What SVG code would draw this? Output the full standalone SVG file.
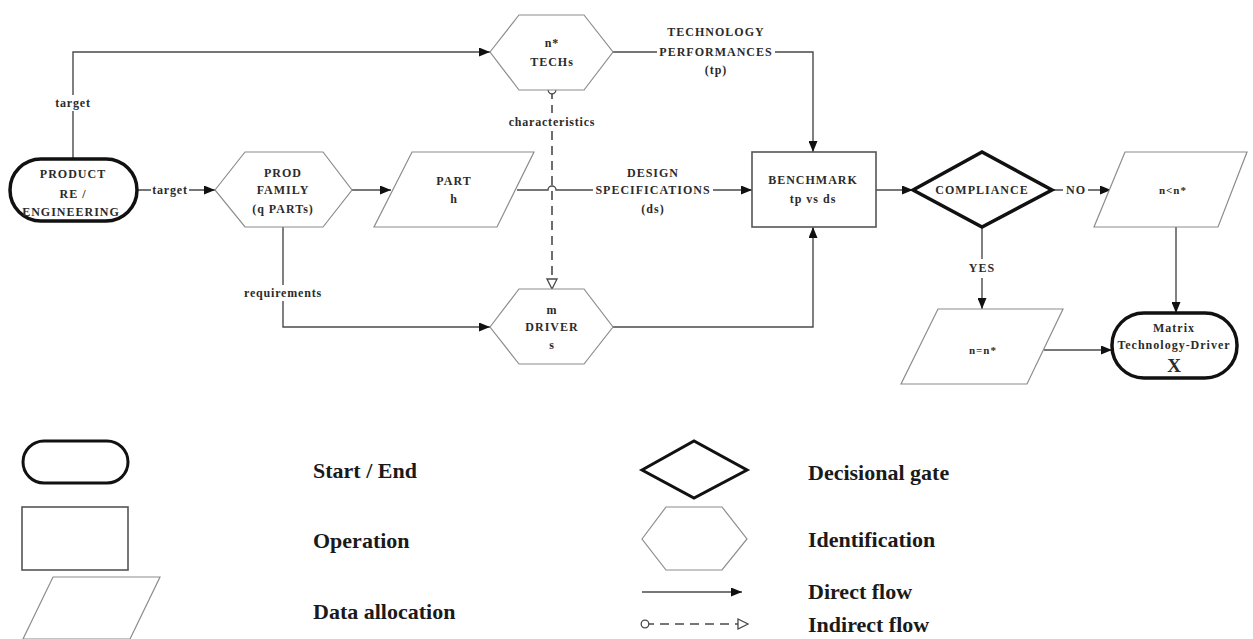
<svg xmlns="http://www.w3.org/2000/svg" width="1253" height="639" viewBox="0 0 1253 639">
<style>
  .bg { fill: #ffffff; }
  .thin { fill: #ffffff; stroke: #8c8c8c; stroke-width: 1.2; }
  .op { fill: #ffffff; stroke: #555555; stroke-width: 1.6; }
  .thick { fill: #ffffff; stroke: #111111; stroke-width: 3.5; }
  .conn { fill: none; stroke: #4a4a4a; stroke-width: 1.4; }
  .dash { fill: none; stroke: #4a4a4a; stroke-width: 1.6; stroke-dasharray: 9,6; }
  text { font-family: "Liberation Serif", "Times New Roman", serif; font-weight: bold; fill: #2b2b2b; }
  .t { font-size: 12px; letter-spacing: 1px; text-anchor: middle; dominant-baseline: central; }
  .l { font-size: 12px; letter-spacing: 0.8px; text-anchor: middle; dominant-baseline: central; }
  .big { font-size: 19px; text-anchor: middle; dominant-baseline: central; }
  .leg { font-size: 22px; dominant-baseline: central; fill: #1a1a1a; }
</style>
<defs>
  <marker id="arr" markerUnits="userSpaceOnUse" markerWidth="11" markerHeight="9" refX="11" refY="4.5" orient="auto">
    <path d="M0,0 L11,4.5 L0,9 z" fill="#111111"/>
  </marker>
  <marker id="open" markerUnits="userSpaceOnUse" markerWidth="12" markerHeight="12" refX="11" refY="6" orient="auto">
    <path d="M1,1 L11,6 L1,11 z" fill="#ffffff" stroke="#4a4a4a" stroke-width="1.3"/>
  </marker>
  <marker id="dot" markerUnits="userSpaceOnUse" markerWidth="10" markerHeight="10" refX="5" refY="5" orient="auto">
    <circle cx="5" cy="5" r="3.8" fill="#ffffff" stroke="#4a4a4a" stroke-width="1.3"/>
  </marker>
</defs>
<rect class="bg" x="0" y="0" width="1253" height="639"/>

<g id="connectors">
  <path class="conn" d="M73,159 V111 M73,95 V52 H490" marker-end="url(#arr)"/>
  <path class="conn" d="M137,190 H151 M189,190 H215" marker-end="url(#arr)"/>
  <path class="conn" d="M352,190 H391" marker-end="url(#arr)"/>
  <path class="conn" d="M613,52 H657 M775,52 H813 V152" marker-end="url(#arr)"/>
  <path class="conn" d="M517,190 H548 A4,4 0 0 1 556,190 H593 M713,190 H752" marker-end="url(#arr)"/>
  <path class="conn" d="M283,227 V285 M283,301 V327 H490" marker-end="url(#arr)"/>
  <path class="dash" d="M552,90 V113 M552,131 V289" marker-start="url(#dot)" marker-end="url(#open)"/>
  <path class="conn" d="M613,327 H813 V227" marker-end="url(#arr)"/>
  <path class="conn" d="M876,190 H913" marker-end="url(#arr)"/>
  <path class="conn" d="M1052,190 H1063 M1088,190 H1111" marker-end="url(#arr)"/>
  <path class="conn" d="M982,227 V259 M982,278 V309" marker-end="url(#arr)"/>
  <path class="conn" d="M1176,227 V313" marker-end="url(#arr)"/>
  <path class="conn" d="M1044,350 H1112" marker-end="url(#arr)"/>
  <text class="l" x="73" y="103">target</text>
  <text class="l" x="170" y="190">target</text>
  <text class="l" x="283" y="293">requirements</text>
  <text class="l" x="552" y="122">characteristics</text>
  <text class="t" x="716" y="32">TECHNOLOGY</text>
  <text class="t" x="716" y="52">PERFORMANCES</text>
  <text class="t" x="716" y="70">(tp)</text>
  <text class="t" x="653" y="173">DESIGN</text>
  <text class="t" x="653" y="190">SPECIFICATIONS</text>
  <text class="t" x="653" y="209">(ds)</text>
  <text class="t" x="1076" y="190">NO</text>
  <text class="t" x="982" y="268">YES</text>
</g>

<g id="product">
  <rect class="thick" x="10" y="159" width="127" height="62" rx="31" ry="31"/>
  <text class="t" x="73" y="174">PRODUCT</text>
  <text class="t" x="73" y="194">RE /</text>
  <text class="t" x="71" y="212">ENGINEERING</text>
</g>

<g id="prod-family">
  <polygon class="thin" points="215,190 245,152 323,152 352,190 323,227 245,227"/>
  <text class="t" x="283" y="173">PROD</text>
  <text class="t" x="283" y="190">FAMILY</text>
  <text class="t" x="283" y="209">(q PARTs)</text>
</g>

<g id="part">
  <polygon class="thin" points="412,152 534,152 497,227 374,227"/>
  <text class="t" x="454" y="181">PART</text>
  <text class="t" x="454" y="199">h</text>
</g>

<g id="techs">
  <polygon class="thin" points="490,52 519,15 584,15 613,52 584,90 519,90"/>
  <text class="t" x="552" y="43">n*</text>
  <text class="t" x="552" y="62">TECHs</text>
</g>

<g id="drivers">
  <polygon class="thin" points="490,327 519,289 584,289 613,327 584,364 519,364"/>
  <text class="t" x="552" y="310">m</text>
  <text class="t" x="552" y="327">DRIVER</text>
  <text class="t" x="552" y="345">s</text>
</g>

<g id="benchmark">
  <rect class="op" x="752" y="152" width="124" height="75"/>
  <text class="t" x="813" y="180">BENCHMARK</text>
  <text class="t" x="813" y="199">tp vs ds</text>
</g>

<g id="compliance">
  <polygon class="thick" points="913,190 982,152 1052,190 982,227"/>
  <text class="t" x="982" y="190">COMPLIANCE</text>
</g>

<g id="n-less">
  <polygon class="thin" points="1125,152 1247,152 1218,227 1094,227"/>
  <text class="t" x="1173" y="190" style="font-size:11px">n&lt;n*</text>
</g>

<g id="n-equal">
  <polygon class="thin" points="938,309 1063,309 1027,384 901,384"/>
  <text class="t" x="983" y="350" style="font-size:11px">n=n*</text>
</g>

<g id="matrix">
  <rect class="thick" x="1112" y="313" width="125" height="65" rx="32" ry="32"/>
  <text class="t" x="1174" y="328">Matrix</text>
  <text class="t" x="1174" y="345">Technology-Driver</text>
  <text class="big" x="1174" y="365">X</text>
</g>

<g id="legend">
  <rect class="thick" x="23" y="441" width="105" height="42" rx="21" ry="21" style="stroke-width:3"/>
  <rect class="op" x="22" y="507" width="106" height="63"/>
  <polygon class="thin" points="53,577 160,577 130,639 23,639"/>
  <text class="leg" x="313" y="470">Start / End</text>
  <text class="leg" x="313" y="540">Operation</text>
  <text class="leg" x="313" y="611">Data allocation</text>
  <polygon class="thick" points="642,470 694,441 747,470 694,498" style="stroke-width:3"/>
  <polygon class="thin" points="642,539 666,507 722,507 747,539 722,570 666,570"/>
  <path class="conn" d="M642,592 H742" marker-end="url(#arr)"/>
  <path class="dash" d="M645,624 H748" marker-start="url(#dot)" marker-end="url(#open)"/>
  <text class="leg" x="808" y="472">Decisional gate</text>
  <text class="leg" x="808" y="539">Identification</text>
  <text class="leg" x="808" y="591">Direct flow</text>
  <text class="leg" x="808" y="624">Indirect flow</text>
</g>
</svg>
